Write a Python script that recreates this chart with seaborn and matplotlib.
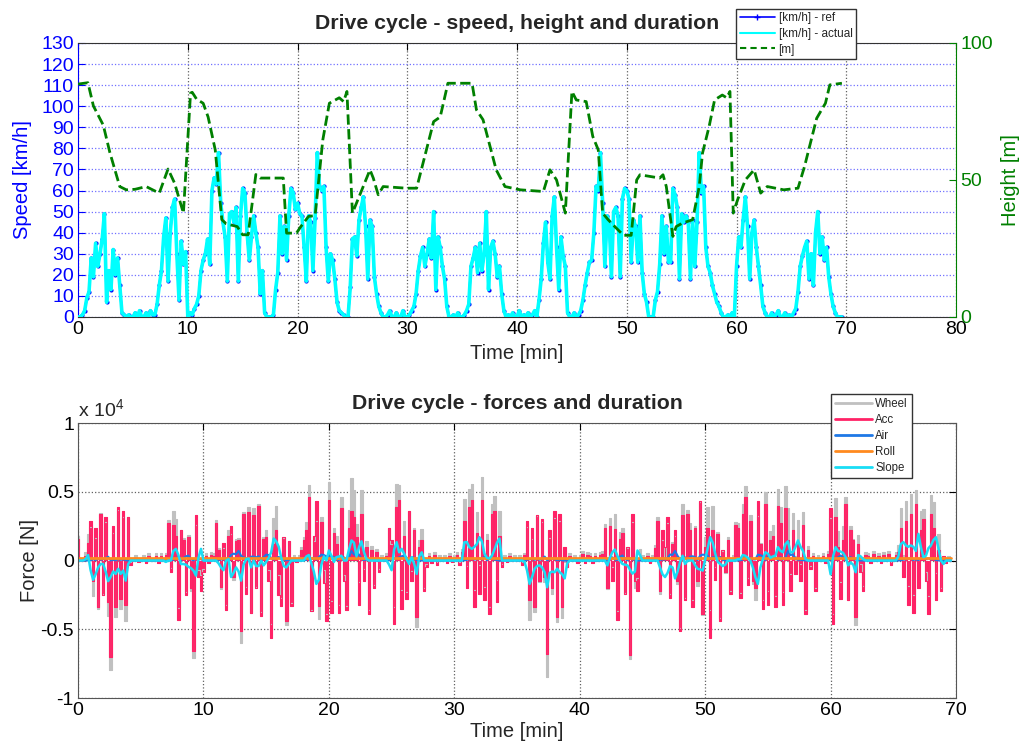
import numpy as np
import pandas as pd
import matplotlib
matplotlib.use("Agg")
import matplotlib.pyplot as plt
from matplotlib.lines import Line2D
from matplotlib.ticker import FuncFormatter, MultipleLocator
import seaborn as sns

# ---------------------------------------------------------------- data
# sample times of the drive cycle [min], one sample every 0.2 min
t_grid = np.round(np.arange(0, 69.61, 0.2), 1)

# reference speed [km/h], one row per minute
speed_ref = [
    0, 0, 1, 3, 9,        12, 28, 19, 35, 24,     30, 37, 49, 7, 22,      13, 32, 20, 28, 15,
    2, 1, 0, 1, 0,        0, 2, 0, 3, 0,          0, 2, 0, 3, 1,          1, 6, 15, 22, 38,
    47, 17, 40, 52, 56,   30, 8, 36, 25, 31,      0, 2, 1, 4, 6,          10, 22, 27, 30, 37,
    25, 60, 66, 63, 78,   54, 45, 38, 17, 49,     50, 45, 52, 17, 48,     61, 59, 40, 27, 38,
    48, 40, 33, 11, 22,   2, 0, 0, 0, 1,          13, 21, 48, 30, 43,     27, 48, 61, 59, 51,
    54, 49, 48, 33, 17,   48, 45, 22, 47, 78,     62, 60, 62, 33, 17,     30, 27, 18, 7, 3,
    2, 1, 0, 0, 14,       37, 38, 29, 46, 52,     57, 43, 18, 46, 43,     19, 11, 5, 2, 0,
    0, 1, 3, 0, 0,        2, 0, 0, 3, 0,          0, 1, 3, 5, 11,         22, 29, 33, 24, 30,
    37, 28, 50, 13, 38,   33, 24, 18, 5, 0,       0, 1, 0, 2, 0,          0, 1, 3, 6, 24,
    28, 33, 21, 35, 22,   30, 50, 13, 33, 36,     30, 19, 24, 11, 3,      0, 1, 0, 2, 0,
    0, 3, 0, 1, 0,        2, 0, 1, 3, 0,          8, 18, 35, 45, 26,      18, 48, 57, 33, 13,
    38, 29, 24, 2, 0,     0, 2, 0, 1, 3,          8, 15, 21, 26, 27,      40, 62, 60, 78, 54,
    24, 48, 45, 19, 50,   52, 48, 19, 56, 61,     60, 56, 26, 46, 43,     26, 48, 21, 11, 7,
    0, 0, 0, 8, 12,       25, 48, 30, 43, 26,     26, 61, 58, 52, 18,     49, 45, 48, 45, 18,
    46, 24, 45, 78, 59,   62, 33, 24, 21, 15,     11, 7, 5, 2, 0,         0, 1, 0, 2, 0,
    24, 38, 33, 46, 57,   43, 18, 40, 46, 33,     24, 15, 5, 2, 0,        0, 2, 0, 1, 3,
    0, 0, 2, 0, 1,        0, 2, 4, 12, 24,        29, 33, 36, 18, 30,     15, 40, 50, 30, 38,
    27, 33, 19, 11, 5,    2, 0, 0, 0,
]
# measured speed [km/h] follows the reference trace
speed_actual = list(speed_ref)

# road height [m] at the route's break points
height_t = [0, 0.9, 1.4, 2.3, 2.9, 3.8, 4.4, 5.2, 6.2, 7.4, 8.2, 8.8, 9.6, 10.25, 10.4,
            10.8, 11.4, 11.85, 12.5, 13.1, 13.5, 14.5, 15.0, 15.5, 16.2, 16.6, 18.7, 19.0,
            19.9, 20.3, 21.0, 21.6, 22.3, 22.9, 23.8, 24.2, 24.5, 25.0, 26.6, 26.9, 27.35,
            27.8, 29.9, 30.85, 32.4, 33.0, 33.7, 35.9, 36.3, 36.9, 38.1, 38.9, 40.3, 42.4,
            43.0, 43.6, 44.4, 45.0, 45.4, 46.3, 46.9, 47.4, 47.8, 48.3, 48.9, 49.7, 50.4,
            50.9, 51.2, 53.0, 53.3, 53.6, 54.2, 54.5, 55.1, 56.0, 56.6, 56.9, 57.5, 58.0,
            58.7, 59.1, 59.4, 59.7, 60.1, 60.8, 61.6, 62.2, 62.8, 64.3, 65.6, 66.2, 67.3,
            68.1, 68.5, 69.6]
height_m = [85, 85.5, 77, 70, 60, 47.6, 46.4, 46.6, 47.6, 45.2, 54, 48.8, 37.9, 81.7, 82,
            79.5, 78, 73, 61, 35.5, 34, 33, 30, 30, 52, 50.7, 50.7, 30.6, 30.6, 33, 36.7,
            37, 64.6, 78, 80, 78.6, 82.3, 37.9, 53.7, 50.7, 44.6, 47.6, 47, 47, 71.3, 73,
            85.3, 85.3, 75.6, 72, 53.7, 47.6, 46.4, 45.8, 53.7, 50, 37.9, 82.3, 79.2, 78.6,
            65.9, 61, 37.9, 35.5, 33, 29.8, 29.8, 50, 51.9, 50.7, 51.9, 47.6, 29.4, 33,
            34.3, 35.5, 47.6, 59.8, 69.5, 79.2, 81, 80, 82.3, 37.9, 42.8, 50, 53.7, 45.2,
            47.6, 46.4, 47, 55, 72.5, 78, 84.7, 85.3]

# acceleration force [N] on t_grid
force_acc = [
    1600, 0, 0, 300, 1300,            2900, -1500, 2400, -3400, 3400,
    -2500, 3200, -3000, -7000, 2500,  -3400, 3900, -2800, 3600, -3200,
    3200, -300, 0, 200, -100,         0, 200, -200, 300, 0,
    0, 300, -200, 300, 0,             400, 2700, -800, 2600, 1800,
    -4300, 2200, 1500, -2500, 1700,   -2000, -6600, 3300, -1200, -2200,
    -800, 300, -200, 400, 300,        2700, 800, -1900, 1300, -3600,
    1800, 2500, -1200, 1400, 1500,    -5100, 3400, -2400, 3500, -3800,
    3300, -2000, 4000, -4000, 1600,   1700, -1500, -5600, 1200, 2200,
    -2500, -3300, 1700, -4400, 1400,  -3300, 200, -100, 200, 800,
    1500, 2200, 4600, -3700, 1800,    4300, -3300, 2800, -1600, -4400,
    4400, -3800, 2000, 1200, -3800,   3800, -1500, -3600, 2400, 3600,
    3200, 1700, -3200, 3400, -1500,   1000, -3900, 800, -2000, 600,
    -800, 200, 0, 300, 2400,          1500, -4600, 3900, 4400, -3500,
    1800, -2800, 3600, -1500, 2200,   -4100, 1000, 1500, -2200, -500,
    300, -200, 400, -300, 200,        0, 200, -200, 300, -100,
    200, 400, -300, 600, 2900,        -2000, 3900, 4400, -3400, 2000,
    -2400, 4400, -2900, 1500, -3900,  3400, 3600, -3000, 1800, -500,
    200, -100, 300, 0, 200,           0, 200, -300, 400, 2900,
    -2900, 2400, -3400, 3300, -1500,  3000, -1200, -6800, 2200, -2000,
    3600, -4100, 3400, -3400, 1000,   -500, 300, 0, 200, -200,
    200, 500, -200, 400, 300,         -200, 300, 0, 400, 500,
    2400, -2000, 2500, -1500, 2300,   -4300, 1600, 2000, -2400, 1000,
    -6900, 3400, -1500, -2200, 200,   200, 0, 300, -200, 200,
    900, 2900, -2200, 2200, 1000,     3200, -2700, 1200, 2200, -1500,
    -5100, 3300, -2900, 3400, 2200,   -3400, 2400, -1500, 4300, -3900,
    1000, 2400, -5600, 2200, -1400,   1900, -4400, 800, -800, 1500,
    -2400, 200, 2600, 2400, -2700,    3400, 4600, -1800, 2900, -1500,
    -2000, 4300, 1200, -3500, 4100,   -3200, 1500, 1800, -3400, 4000,
    2700, -3200, 3800, 1500, -2200,   2200, -1000, 1200, -1500, 2600,
    -3900, 800, -600, 300, -2200,     200, 0, 300, -200, 500,
    3800, -4600, 3200, 1000, -2800,   1500, 4100, -2900, 2200, 1500,
    -4100, 1200, -800, -2200, 400,    300, -200, 500, 0, 300,
    -200, 400, 0, 500, -300,          0, 400, 600, 2400, -1200,
    2900, -3200, 3400, -3800, 4100,   -2000, 2200, 3000, -1500, -3900,
    3400, 2400, -2900, 800, -2200,    300, -200, 100, 0,
]

# grade (slope) force [N] on t_grid
force_slope = [
    0, 0, 0, 100, 400,                -700, -1400, -1000, -500, -250,
    -250, -800, -1500, -1200, -800,   -970, -600, -970, -730, -1460,
    -250, 0, 0, 0, 0,                 0, 0, 0, 0, 0,
    0, 0, 0, 0, 0,                    -100, 0, 0, 700, 850,
    400, -250, -250, -300, -450,      -550, -730, -1100, 200, 850,
    0, 0, 0, 0, 0,                    0, -200, -500, -700, 0,
    100, -1200, -900, -500, -800,     -1460, -300, 100, 150, -500,
    0, -400, -400, 0, -350,           -100, 200, 600, 1600, 1400,
    1000, 200, -400, -500, -250,      0, 0, 0, 0, 0,
    0, 300, 400, -200, -800,          -1700, -1400, -300, 300, 0,
    730, 350, -100, 250, 300,         350, 0, 0, 800, 1460,
    1300, 300, 970, 1400, 600,        100, 0, 0, 0, 0,
    0, 0, 0, 0, -300,                 -700, 800, 1340, 600, 850,
    500, 100, -250, 250, -250,        -970, 300, 600, 0, 0,
    0, 0, 0, 0, 0,                    0, 0, 0, 0, 0,
    0, 0, 0, 0, 1340,                 1340, 970, 850, 1000, 1200,
    1700, 1400, 500, 200, 150,        350, 800, 1300, 1600, 0,
    0, 0, 0, 0, 0,                    0, 0, 0, -100, -730,
    -1700, -1200, -600, -400, -350,   -500, -850, -1940, -900, -800,
    -850, -600, -850, -1000, -1300,   -200, 0, 0, 0, 0,
    0, 0, 0, 0, 0,                    0, 0, 0, 0, 0,
    0, -350, 200, 600, 800,           350, 0, -250, -300, -350,
    -650, -950, -800, 730, 400,       0, 0, 0, 0, 0,
    0, 0, -500, -1000, -1200,         -900, -400, -500, -1300, -800,
    -100, 350, -250, 0, 0,            0, -350, -600, -650, -730,
    100, 900, 1700, 1300, 500,        -100, -250, -400, -300, 0,
    0, 0, 0, 100, 100,                400, 350, 200, 0, -500,
    -1200, -1700, -500, 100, 600,     500, 200, 300, 350, 970,
    700, 600, 1200, 1400, 600,        600, 1000, 1460, 1000, 700,
    100, 0, 0, 0, 0,                  0, 0, 0, 0, 0,
    -1000, 300, 970, 700, 650,        550, 250, -350, -150, -300,
    -850, 400, 300, 100, 0,           0, 0, 0, 0, 0,
    0, 0, 0, 0, 0,                    0, 0, 300, 1200, 1340,
    1100, 1000, 1100, 1000, 700,      1940, 970, 250, 350, 900,
    1100, 1500, 1700, 900, 0,         -250, 0, 0, 0,
]

# aerodynamic drag force [N] on t_grid
force_air = [
    0, 0, 0, 0, 10,          20, 90, 40, 140, 70,       100, 160, 280, 10, 60,     20, 120, 50, 90, 30,
    0, 0, 0, 0, 0,           0, 0, 0, 0, 0,             0, 0, 0, 0, 0,             0, 0, 30, 60, 170,
    250, 30, 180, 310, 360,  100, 10, 150, 70, 110,     0, 0, 0, 0, 0,             10, 60, 80, 100, 160,
    70, 410, 500, 460, 700,  340, 230, 170, 30, 280,    290, 230, 310, 30, 260,    430, 400, 180, 80, 170,
    260, 180, 130, 10, 60,   0, 0, 0, 0, 0,             20, 50, 260, 100, 210,     80, 260, 430, 400, 300,
    340, 280, 260, 130, 30,  260, 230, 60, 250, 700,    440, 410, 440, 130, 30,    100, 80, 40, 10, 0,
    0, 0, 0, 0, 20,          160, 170, 100, 240, 310,   370, 210, 40, 240, 210,    40, 10, 0, 0, 0,
    0, 0, 0, 0, 0,           0, 0, 0, 0, 0,             0, 0, 0, 0, 10,            60, 100, 130, 70, 100,
    160, 90, 290, 20, 170,   130, 70, 40, 0, 0,         0, 0, 0, 0, 0,             0, 0, 0, 0, 70,
    90, 130, 50, 140, 60,    100, 290, 20, 130, 150,    100, 40, 70, 10, 0,        0, 0, 0, 0, 0,
    0, 0, 0, 0, 0,           0, 0, 0, 0, 0,             10, 40, 140, 230, 80,      40, 260, 370, 130, 20,
    170, 100, 70, 0, 0,      0, 0, 0, 0, 0,             10, 30, 50, 80, 80,        180, 440, 410, 700, 340,
    70, 260, 230, 40, 290,   310, 260, 40, 360, 430,    410, 360, 80, 240, 210,    80, 260, 50, 10, 10,
    0, 0, 0, 10, 20,         70, 260, 100, 210, 80,     80, 430, 390, 310, 40,     280, 230, 260, 230, 40,
    240, 70, 230, 700, 400,  440, 130, 70, 50, 30,      10, 10, 0, 0, 0,           0, 0, 0, 0, 0,
    70, 170, 130, 240, 370,  210, 40, 180, 240, 130,    70, 30, 0, 0, 0,           0, 0, 0, 0, 0,
    0, 0, 0, 0, 0,           0, 0, 0, 20, 70,           100, 130, 150, 40, 100,    30, 180, 290, 100, 170,
    80, 130, 40, 10, 0,      0, 0, 0, 0,
]

# rolling resistance [N], constant over the cycle
force_roll = 220

# ---------------------------------------------------------------- frames
speed_df = pd.DataFrame({"t": t_grid, "ref": speed_ref, "actual": speed_actual})
height_df = pd.DataFrame({"t": height_t, "h": height_m})
forces_df = pd.DataFrame({
    "t": t_grid,
    "Acc": force_acc,
    "Air": force_air,
    "Roll": np.full(len(t_grid), force_roll, dtype=float),
    "Slope": force_slope,
})
# the wheel force is the sum of all resistance components
forces_df["Wheel"] = forces_df[["Acc", "Air", "Roll", "Slope"]].sum(axis=1)

# ---------------------------------------------------------------- style
sns.set_style("white")
plt.rcParams["font.family"] = ["Liberation Sans", "DejaVu Sans"]
plt.rcParams["axes.unicode_minus"] = False
plt.rcParams["mathtext.default"] = "regular"

BLUE = "#0000FF"
CYAN = "#00FFFF"
GREEN = "#008000"
C_WHEEL = "#C0C0C0"
C_ACC = "#FF2266"
C_AIR = "#1E78E6"
C_ROLL = "#FF8A1E"
C_SLOPE = "#19DDF5"

TICK_FS = 14
LABEL_FS = 14.5
TITLE_FS = 15.3

fig = plt.figure(figsize=(10.27, 7.46), dpi=100)
ax = fig.add_axes([0.0760, 0.5751, 0.8549, 0.3673])
ax3 = fig.add_axes([0.0760, 0.0643, 0.8549, 0.3686])

# ---------------------------------------------------------------- speed + height
sns.lineplot(data=speed_df, x="t", y="ref", ax=ax, color=BLUE, lw=1.6,
             marker=".", markersize=6, markeredgewidth=0, estimator=None,
             sort=False, legend=False, zorder=2)
sns.lineplot(data=speed_df, x="t", y="actual", ax=ax, color=CYAN, lw=2.6,
             estimator=None, sort=False, legend=False, zorder=3)

ax.set_xlim(0, 80)
ax.set_ylim(0, 130)
ax.xaxis.set_major_locator(MultipleLocator(10))
ax.yaxis.set_major_locator(MultipleLocator(10))
ax.set_axisbelow(True)
ax.yaxis.grid(True, color="#7070FF", ls=":", lw=0.9)
ax.xaxis.grid(True, color="#606060", ls=":", lw=0.9)
ax.tick_params(axis="x", direction="in", length=5, top=True, labelsize=TICK_FS,
               colors="black", pad=3)
ax.tick_params(axis="y", direction="in", length=5, right=True, labelsize=TICK_FS,
               colors=BLUE, pad=3)
ax.set_xlabel("Time [min]", fontsize=LABEL_FS)
ax.set_ylabel("Speed [km/h]", fontsize=LABEL_FS, color=BLUE)
ax.yaxis.set_label_coords(-0.053, 0.5)
ax.xaxis.set_label_coords(0.5, -0.098)
ax.set_title("Drive cycle - speed, height and duration", fontsize=TITLE_FS,
             fontweight="bold", pad=10)
for side in ("top", "bottom"):
    ax.spines[side].set_color("#333333")
ax.spines["left"].set_color(BLUE)
ax.spines["right"].set_visible(False)

ax2 = ax.twinx()
sns.lineplot(data=height_df, x="t", y="h", ax=ax2, color=GREEN, lw=2.0,
             linestyle="--", dashes=(3.5, 2.2), estimator=None, sort=False,
             legend=False)
ax2.set_ylim(0, 100)
ax2.set_yticks([0, 50, 100])
ax2.tick_params(axis="y", direction="in", length=5, labelsize=TICK_FS,
                colors=GREEN, pad=3)
ax2.set_ylabel("Height [m]", fontsize=LABEL_FS, color=GREEN)
ax2.yaxis.set_label_coords(1.051, 0.5)
for side in ("left", "top", "bottom"):
    ax2.spines[side].set_visible(False)
ax2.spines["right"].set_color(GREEN)

top_handles = [
    Line2D([], [], color=BLUE, lw=1.2, marker="+", markersize=4),
    Line2D([], [], color=CYAN, lw=1.5),
    Line2D([], [], color=GREEN, lw=1.5, ls="--", dashes=(3, 2)),
]
leg1 = fig.legend(top_handles, ["[km/h] - ref", "[km/h] - actual", "[m]"],
                  loc="upper left", bbox_to_anchor=(0.7167, 0.988),
                  fontsize=8.5, frameon=True, fancybox=False, framealpha=1,
                  edgecolor="#333333", handlelength=3.0, handletextpad=0.3,
                  borderpad=0.3, labelspacing=0.3, borderaxespad=0)
leg1.get_frame().set_linewidth(1.0)

# ---------------------------------------------------------------- forces
# wheel and acceleration force: each sample drawn as a filled spike from zero
for col, color in [("Wheel", C_WHEEL), ("Acc", C_ACC)]:
    ax3.fill_between(forces_df["t"], 0, forces_df[col], step="mid",
                     color=color, lw=0)
    sns.lineplot(data=forces_df, x="t", y=col, ax=ax3, color=color, lw=0.8,
                 drawstyle="steps-mid", estimator=None, sort=False,
                 legend=False)
for col, color, lw in [("Air", C_AIR, 1.5), ("Roll", C_ROLL, 2.0),
                       ("Slope", C_SLOPE, 1.8)]:
    sns.lineplot(data=forces_df, x="t", y=col, ax=ax3, color=color, lw=lw,
                 estimator=None, sort=False, legend=False)

ax3.set_xlim(0, 70)
ax3.set_ylim(-1e4, 1e4)
ax3.xaxis.set_major_locator(MultipleLocator(10))
ax3.set_yticks([-1e4, -5e3, 0, 5e3, 1e4])
ax3.yaxis.set_major_formatter(FuncFormatter(lambda v, _: f"{v / 1e4:g}"))
ax3.set_axisbelow(True)
ax3.grid(True, color="#606060", ls=":", lw=0.9)
ax3.tick_params(direction="in", length=5, top=True, right=True,
                labelsize=TICK_FS, colors="black", pad=3)
ax3.set_xlabel("Time [min]", fontsize=LABEL_FS)
ax3.set_ylabel("Force [N]", fontsize=LABEL_FS)
ax3.yaxis.set_label_coords(-0.044, 0.5)
ax3.xaxis.set_label_coords(0.5, -0.088)
ax3.set_title("Drive cycle - forces and duration", fontsize=TITLE_FS,
              fontweight="bold", pad=10)
ax3.text(0.0, 1.01, r"x 10$^4$", transform=ax3.transAxes, ha="left",
         va="bottom", fontsize=TICK_FS)
for spine in ax3.spines.values():
    spine.set_color("#555555")

bottom_handles = [Line2D([], [], color=c, lw=2)
                  for c in (C_WHEEL, C_ACC, C_AIR, C_ROLL, C_SLOPE)]
leg2 = fig.legend(bottom_handles, ["Wheel", "Acc", "Air", "Roll", "Slope"],
                  loc="upper left", bbox_to_anchor=(0.809, 0.472),
                  fontsize=8.3, frameon=True, fancybox=False, framealpha=1,
                  edgecolor="#333333", handlelength=3.2, handletextpad=0.3,
                  borderpad=0.35, labelspacing=0.35, borderaxespad=0)
leg2.get_frame().set_linewidth(1.0)

fig.savefig("out.png", dpi=100)
